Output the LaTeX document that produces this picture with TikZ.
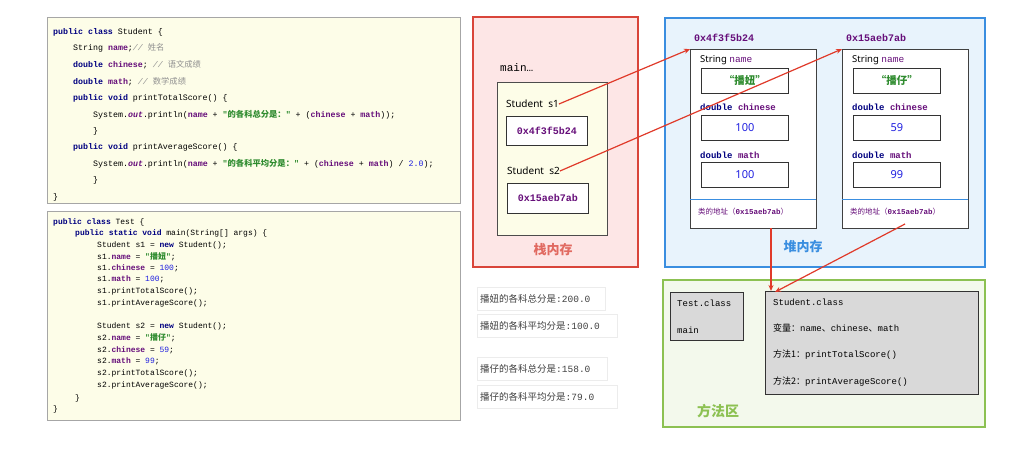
\documentclass[tikz,border=0pt]{standalone}
\usepackage{fontspec}
\setmainfont{Noto Sans}
\setmonofont{Liberation Mono}
\newfontfamily\cjk{Noto Sans CJK SC}
\usetikzlibrary{arrows.meta,shadows}
\definecolor{kw}{HTML}{000080}
\definecolor{fld}{HTML}{660E7A}
\definecolor{str}{HTML}{2E8B2E}
\definecolor{num}{HTML}{2020E0}
\definecolor{cmt}{HTML}{909090}
\definecolor{codebg}{HTML}{FDFDE8}
\definecolor{stk}{HTML}{D9453A}
\definecolor{stkbg}{HTML}{FDE6E6}
\definecolor{hp}{HTML}{3A8EE0}
\definecolor{hpbg}{HTML}{E8F3FC}
\definecolor{ma}{HTML}{8CC152}
\definecolor{mabg}{HTML}{F3F9EC}
\definecolor{arr}{HTML}{E03A2A}
\newcommand\kw[1]{\textcolor{kw}{\bfseries #1}}
\newcommand\fd[1]{\textcolor{fld}{\bfseries #1}}
\newcommand\st[1]{\textcolor{str}{\bfseries #1}}
\newcommand\nm[1]{\textcolor{num}{#1}}
\newcommand\cm[1]{\textcolor{cmt}{\itshape #1}}
\begin{document}
\begin{tikzpicture}[x=1pt,y=-1pt,
  code/.style={anchor=west,inner sep=0pt,font=\ttfamily\fontsize{8.3}{9}\selectfont},
  tcode/.style={anchor=west,inner sep=0pt,font=\ttfamily\fontsize{8}{9}\selectfont},
  cbox/.style={draw=gray!70,fill=codebg,line width=0.8pt},
  vbox/.style={draw=black!80,fill=white,line width=0.8pt},
  lab/.style={anchor=west,inner sep=0pt,font=\fontsize{9.5}{10}\selectfont},
  outp/.style={draw=gray!15,fill=white,drop shadow={shadow xshift=0.8pt,shadow yshift=-1pt,opacity=0.25},anchor=north west,inner sep=0pt,minimum height=23pt,font=\fontsize{9.5}{10}\selectfont,text=black!75},
  mono/.style={anchor=west,inner sep=0pt,font=\ttfamily\fontsize{9}{10}\selectfont},
  a/.style={draw=arr,line width=1.2pt,-{Stealth[length=6pt,width=5pt]}}]
\useasboundingbox (0,0) rectangle (1030,455);
\fill[white] (0,0) rectangle (1030,455);
% Student code
\draw[cbox] (47,17) rectangle (460,203);
\node[code] at (53,32) {\kw{public class} Student \{};
\node[code] at (73,48) {String \fd{name};\cm{// {\cjk 姓名}}};
\node[code] at (73,65) {\kw{double} \fd{chinese}; \cm{// {\cjk 语文成绩}}};
\node[code] at (73,82) {\kw{double} \fd{math}; \cm{// {\cjk 数学成绩}}};
\node[code] at (73,98) {\kw{public void} printTotalScore() \{};
\node[code] at (93,115) {System.\textcolor{fld}{\itshape\bfseries out}.println(\fd{name} + \st{"{\cjk 的各科总分是：}"} + (\fd{chinese} + \fd{math}));};
\node[code] at (93,131) {\}};
\node[code] at (73,147) {\kw{public void} printAverageScore() \{};
\node[code] at (93,164) {System.\textcolor{fld}{\itshape\bfseries out}.println(\fd{name} + \st{"{\cjk 的各科平均分是：}"} + (\fd{chinese} + \fd{math}) / \nm{2.0});};
\node[code] at (93,180) {\}};
\node[code] at (53,197) {\}};
% Test code
\draw[cbox] (47,211) rectangle (460,420);
\node[tcode] at (53,222) {\kw{public class} Test \{};
\node[tcode] at (75,233) {\kw{public static void} main(String[] args) \{};
\node[tcode] at (97,245) {Student s1 = \kw{new} Student();};
\node[tcode] at (97,257) {s1.\fd{name} = \st{"{\cjk 播妞}"};};
\node[tcode] at (97,268) {s1.\fd{chinese} = \nm{100};};
\node[tcode] at (97,279) {s1.\fd{math} = \nm{100};};
\node[tcode] at (97,291) {s1.printTotalScore();};
\node[tcode] at (97,303) {s1.printAverageScore();};
\node[tcode] at (97,326) {Student s2 = \kw{new} Student();};
\node[tcode] at (97,338) {s2.\fd{name} = \st{"{\cjk 播仔}"};};
\node[tcode] at (97,350) {s2.\fd{chinese} = \nm{59};};
\node[tcode] at (97,361) {s2.\fd{math} = \nm{99};};
\node[tcode] at (97,373) {s2.printTotalScore();};
\node[tcode] at (97,385) {s2.printAverageScore();};
\node[tcode] at (75,398) {\}};
\node[tcode] at (53,409) {\}};
% Stack
\draw[draw=stk,fill=stkbg,line width=1.5pt] (473,17) rectangle (638,267);
\node[anchor=west,inner sep=0pt,font=\ttfamily\fontsize{11}{12}\selectfont] at (500,68) {main…};
\draw[draw=black!70,fill=codebg,line width=0.7pt] (497,82) rectangle (607,235);
\node[lab,font=\fontsize{10}{11}\selectfont] (s1) at (506,104) {Student\ \ s1};
\node[vbox,minimum width=81pt,minimum height=29pt,anchor=north west,inner sep=0pt,font=\ttfamily\bfseries\fontsize{10}{11}\selectfont,text=fld] (p1) at (506,116) {0x4f3f5b24};
\node[lab,font=\fontsize{10}{11}\selectfont] (s2) at (507,171) {Student\ \ s2};
\node[vbox,minimum width=81pt,minimum height=30pt,anchor=north west,inner sep=0pt,font=\ttfamily\bfseries\fontsize{10}{11}\selectfont,text=fld] (p2) at (507,183) {0x15aeb7ab};
\node[font=\cjk\bfseries\fontsize{13}{14}\selectfont,text=stk!80] at (553,250) {栈内存};
% Heap
\draw[draw=hp,fill=hpbg,line width=1.5pt] (665,18) rectangle (985,267);
\node[font=\cjk\bfseries\fontsize{13}{14}\selectfont,text=hp] at (803,247) {堆内存};
\foreach \ox/\addr/\nv/\cv/\mv/\id in {690/0x4f3f5b24/播妞/100/100/A,842/0x15aeb7ab/播仔/59/99/B}{
  \node[anchor=west,inner sep=0pt,font=\ttfamily\bfseries\fontsize{10}{11}\selectfont,text=fld] at (\ox+4,38) {\addr};
  \draw[fill=white,draw=black!75,line width=0.8pt] (\ox,49) coordinate (o\id) rectangle (\ox+126,228);
  \draw[hp,line width=0.8pt] (\ox,199) -- (\ox+126,199);
  \node[lab] at (\ox+10,60) {String \textcolor{fld}{\ttfamily name}};
  \node[vbox,anchor=north west,minimum width=87pt,minimum height=25pt,inner sep=0pt,font=\cjk\bfseries\fontsize{10.5}{11}\selectfont,text=str] at (\ox+11,68) {“\nv”};
  \node[lab,font=\ttfamily\bfseries\fontsize{9}{10}\selectfont] at (\ox+10,107) {\kw{double} \fd{chinese}};
  \node[vbox,anchor=north west,minimum width=87pt,minimum height=25pt,inner sep=0pt,font=\fontsize{11}{12}\selectfont,text=num] at (\ox+11,115) {\cv};
  \node[lab,font=\ttfamily\bfseries\fontsize{9}{10}\selectfont] at (\ox+10,155) {\kw{double} \fd{math}};
  \node[vbox,anchor=north west,minimum width=87pt,minimum height=25pt,inner sep=0pt,font=\fontsize{11}{12}\selectfont,text=num] at (\ox+11,162) {\mv};
  \node[lab,font=\fontsize{7.5}{8}\selectfont,text=fld] (c\id) at (\ox+8,212) {{\cjk 类的地址（}{\ttfamily\bfseries 0x15aeb7ab}{\cjk ）}};
}
\coordinate (ca) at (771,228);
\coordinate (cb) at (905,224);
% outputs
\node[outp,minimum width=128pt,text width=122pt,align=left] at (477,287) {\cjk 播妞的各科总分是{\ttfamily :200.0}};
\node[outp,minimum width=140pt,text width=134pt,align=left] at (477,314) {\cjk 播妞的各科平均分是{\ttfamily :100.0}};
\node[outp,minimum width=130pt,text width=124pt,align=left] at (477,357) {\cjk 播仔的各科总分是{\ttfamily :158.0}};
\node[outp,minimum width=140pt,text width=134pt,align=left] at (477,385) {\cjk 播仔的各科平均分是{\ttfamily :79.0}};
% method area
\draw[draw=ma,fill=mabg,line width=1.5pt] (663,280) rectangle (985,427);
\draw[fill=black!15,draw=black!80,line width=0.8pt] (670,292) rectangle (743,340);
\node[mono] at (677,303) {Test.class};
\node[mono] at (677,330) {main};
\draw[fill=black!15,draw=black!80,line width=0.8pt] (765,291) rectangle (978,394);
\coordinate (sc1) at (771,291);
\coordinate (sc2) at (775,292);
\node[mono] at (773,302) {Student.class};
\node[mono] at (773,328) {{\cjk 变量：}name{\cjk 、}chinese{\cjk 、}math};
\node[mono] at (773,355) {{\cjk 方法1：}printTotalScore()};
\node[mono] at (773,382) {{\cjk 方法2：}printAverageScore()};
\node[font=\cjk\bfseries\fontsize{14}{15}\selectfont,text=ma] at (718,411) {方法区};
% arrows
\draw[a] (s1.east) -- (oA);
\draw[a] (s2.east) -- (oB);
\draw[a] (ca) -- (sc1);
\draw[a] (cb) -- (sc2);
\end{tikzpicture}
\end{document}
